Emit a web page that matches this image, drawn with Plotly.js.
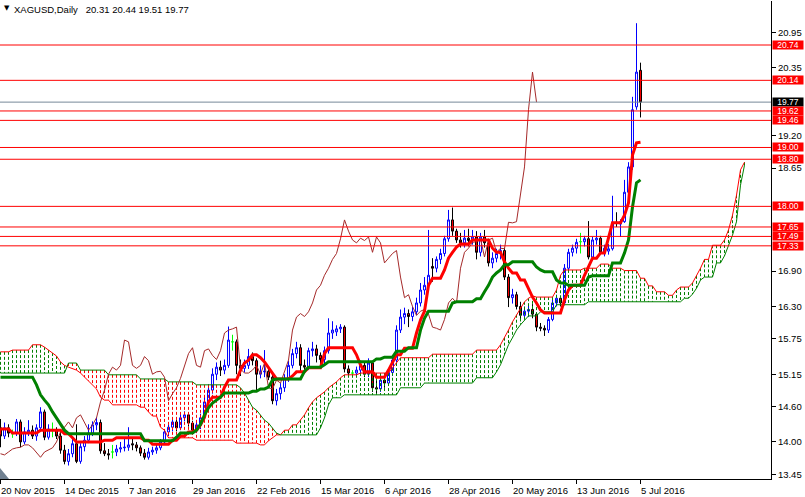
<!DOCTYPE html>
<html><head><meta charset="utf-8">
<script src="https://cdn.plot.ly/plotly-3.0.1.min.js"></script>
<style>html,body{margin:0;padding:0;background:#fff;}#chart{width:805px;height:497px;}</style>
</head><body><div id="chart"></div>
<script>
const chartTitle = "XAGUSD,Daily\u00a0\u00a0\u00a020.31 20.44 19.51 19.77";

const openP = [
14.24,14.10,14.24,14.14,14.15,14.34,14.00,14.17,14.20,14.10,
14.24,14.51,14.08,14.20,14.20,14.10,13.86,13.67,13.80,13.97,
13.67,13.92,14.03,14.15,14.29,14.33,13.85,13.80,13.83,13.83,
13.88,13.90,13.91,13.97,13.95,13.90,13.81,13.74,13.83,13.86,
13.90,14.00,14.17,14.25,14.34,14.24,14.41,14.46,14.32,14.20,
14.29,14.41,14.68,14.88,15.15,15.27,15.22,15.30,15.70,15.70,
15.30,15.25,15.30,15.45,15.38,15.15,15.19,15.20,15.10,14.70,
14.82,14.92,15.08,15.30,15.50,15.60,15.30,15.27,15.55,15.58,
15.47,15.40,15.55,15.85,15.87,15.92,15.95,15.24,15.17,15.17,
15.22,15.30,15.15,15.34,14.92,14.90,15.05,15.00,15.18,15.39,
15.90,16.12,16.18,16.13,16.21,16.36,16.58,16.66,16.98,16.95,
17.10,17.20,17.45,17.77,17.58,17.43,17.38,17.46,17.42,17.48,
17.22,17.48,17.38,17.04,17.12,17.20,17.25,16.80,16.45,16.50,
16.30,16.15,16.22,16.25,16.17,15.95,15.93,15.90,16.08,16.36,
16.44,16.36,16.95,17.22,17.29,17.40,17.40,17.45,17.14,17.43,
17.46,17.22,17.24,17.28,17.73,17.70,17.74,18.24,18.67,19.69,
20.31];
const highP = [
14.39,14.33,14.30,14.21,14.39,14.38,14.25,14.37,14.28,14.30,
14.59,14.55,14.30,14.33,14.25,14.18,13.95,13.88,14.05,14.30,
13.98,14.10,14.30,14.35,14.42,14.38,13.98,13.88,13.95,13.95,
14.00,14.05,14.25,14.08,14.00,13.94,13.88,13.90,13.92,13.96,
14.05,14.22,14.30,14.40,14.38,14.50,14.52,14.50,14.36,14.35,
14.48,14.78,14.98,15.25,15.35,15.38,15.40,15.96,15.82,15.74,
15.40,15.40,15.58,15.52,15.42,15.30,15.56,15.28,15.15,14.90,
15.00,15.15,15.38,15.58,15.70,15.66,15.40,15.60,15.70,15.65,
15.52,15.62,16.10,16.05,15.98,16.00,15.98,15.30,15.22,15.28,
15.38,15.36,15.42,15.38,15.05,15.12,15.10,15.25,15.45,15.98,
16.25,16.28,16.25,16.30,16.45,16.70,16.80,17.60,17.12,17.15,
17.28,17.50,17.94,17.98,17.62,17.55,17.60,17.62,17.60,17.58,
17.55,17.60,17.45,17.22,17.28,17.35,17.30,16.85,16.60,16.55,
16.38,16.30,16.35,16.34,16.20,16.02,15.98,16.12,16.45,16.50,
16.48,17.02,17.28,17.35,17.45,17.55,17.50,17.75,17.48,17.60,
17.50,17.35,17.36,18.18,17.90,17.78,18.45,18.75,19.86,21.11,
20.44];
const lowP = [
13.91,14.05,14.08,14.07,14.10,13.91,13.96,14.10,14.05,14.02,
14.18,14.03,14.04,14.08,14.05,13.80,13.62,13.60,13.74,13.64,
13.63,13.84,13.98,14.10,14.20,13.80,13.76,13.70,13.72,13.76,
13.82,13.84,13.85,13.86,13.84,13.76,13.70,13.70,13.78,13.80,
13.86,13.96,14.10,14.18,14.18,14.20,14.35,14.26,14.14,14.15,
14.22,14.36,14.62,14.82,15.05,15.12,15.15,15.26,15.55,15.15,
15.12,15.18,15.24,15.30,14.88,15.08,15.10,15.05,14.64,14.62,
14.72,14.85,15.02,15.25,15.42,15.20,15.22,15.22,15.45,15.35,
15.30,15.32,15.50,15.75,15.80,15.85,15.18,15.12,15.10,15.10,
15.15,15.10,15.10,14.85,14.82,14.85,14.92,14.95,15.12,15.35,
15.85,16.00,15.95,16.05,16.15,16.30,16.50,16.60,16.72,16.88,
17.02,17.15,17.40,17.50,17.38,17.30,17.30,17.32,17.35,17.10,
17.15,17.30,16.98,16.95,17.05,17.10,16.75,16.29,16.35,16.25,
16.05,16.08,16.12,16.10,15.88,15.88,15.80,15.85,16.05,16.30,
16.30,16.32,16.90,17.15,17.20,17.20,17.32,17.10,17.08,17.35,
17.18,17.15,17.18,17.25,17.65,17.48,17.72,18.19,18.62,19.64,
19.51];
const closeP = [
14.10,14.24,14.15,14.14,14.34,14.00,14.17,14.20,14.10,14.24,
14.51,14.08,14.22,14.20,14.10,13.86,13.67,13.80,13.97,13.67,
13.92,14.03,14.15,14.29,14.33,13.85,13.80,13.78,13.83,13.88,
13.90,13.91,13.95,13.95,13.90,13.81,13.74,13.83,13.86,13.90,
14.00,14.17,14.25,14.34,14.24,14.41,14.46,14.32,14.20,14.29,
14.41,14.68,14.88,15.15,15.27,15.22,15.30,15.73,15.70,15.30,
15.25,15.30,15.45,15.38,15.15,15.19,15.20,15.10,14.70,14.82,
14.92,15.08,15.30,15.50,15.60,15.30,15.27,15.55,15.58,15.47,
15.40,15.55,15.85,15.90,15.92,15.95,15.24,15.17,15.17,15.22,
15.30,15.15,15.34,14.92,14.90,15.05,15.00,15.18,15.39,15.90,
16.12,16.18,16.13,16.21,16.36,16.58,16.66,16.83,16.95,17.10,
17.20,17.45,17.77,17.58,17.43,17.38,17.46,17.42,17.48,17.22,
17.48,17.38,17.04,17.12,17.20,17.25,16.80,16.45,16.50,16.30,
16.15,16.22,16.25,16.17,15.95,15.93,15.90,16.08,16.36,16.44,
16.36,16.95,17.22,17.29,17.39,17.40,17.45,17.14,17.43,17.46,
17.22,17.29,17.28,17.73,17.72,17.74,18.24,18.67,19.64,20.28,
19.77];

const tenkan = [
14.22,14.22,14.22,14.15,14.15,14.15,14.15,14.15,14.15,14.15,
14.20,14.20,14.20,14.20,14.20,14.20,14.14,14.14,14.07,14.00,
14.00,14.00,14.00,14.00,14.00,14.00,14.03,14.03,14.03,14.07,
14.07,14.07,14.07,14.07,14.07,14.07,14.03,14.03,13.96,13.96,
13.96,13.96,13.96,14.03,14.03,14.10,14.10,14.17,14.17,14.20,
14.29,14.42,14.68,14.76,14.76,14.76,14.93,15.05,15.05,15.05,
15.22,15.34,15.39,15.48,15.48,15.43,15.36,15.26,15.15,15.07,
15.07,15.07,15.07,15.12,15.19,15.19,15.19,15.26,15.26,15.26,
15.26,15.50,15.60,15.60,15.60,15.60,15.60,15.60,15.60,15.48,
15.31,15.19,15.19,15.19,15.10,15.10,15.10,15.22,15.36,15.48,
15.48,15.59,15.59,15.59,15.85,16.07,16.22,16.66,16.78,16.78,
16.78,16.92,17.12,17.22,17.31,17.36,17.36,17.36,17.43,17.43,
17.43,17.43,17.43,17.29,17.22,17.22,17.06,16.95,16.87,16.87,
16.75,16.75,16.61,16.46,16.36,16.24,16.19,16.19,16.19,16.19,
16.19,16.41,16.58,16.66,16.66,16.66,16.83,16.97,17.12,17.12,
17.21,17.21,17.45,17.72,17.72,17.72,17.85,18.06,18.87,19.08,
19.09];
const kijun = [
15.10,15.10,15.10,15.10,15.10,15.10,15.10,15.10,15.10,14.97,
14.80,14.71,14.63,14.51,14.41,14.29,14.20,14.14,14.14,14.14,
14.14,14.14,14.14,14.14,14.14,14.14,14.14,14.14,14.14,14.14,
14.14,14.14,14.14,14.14,14.14,14.14,14.02,14.02,14.02,14.02,
14.02,14.02,14.02,14.02,14.08,14.15,14.15,14.15,14.15,14.20,
14.30,14.46,14.58,14.66,14.71,14.76,14.83,14.83,14.83,14.83,
14.83,14.83,14.83,14.86,14.86,14.90,14.90,14.93,15.05,15.07,
15.07,15.07,15.07,15.07,15.07,15.07,15.20,15.27,15.27,15.27,
15.27,15.31,15.36,15.36,15.36,15.36,15.36,15.36,15.36,15.36,
15.36,15.36,15.36,15.36,15.41,15.41,15.44,15.44,15.44,15.54,
15.54,15.54,15.60,15.60,15.60,15.90,16.10,16.22,16.22,16.22,
16.22,16.22,16.22,16.36,16.38,16.38,16.38,16.38,16.38,16.43,
16.43,16.55,16.66,16.80,16.87,16.92,17.01,17.01,17.06,17.06,
17.06,17.06,17.06,17.06,16.97,16.92,16.89,16.89,16.89,16.75,
16.70,16.70,16.66,16.66,16.66,16.66,16.66,16.80,16.82,16.82,
16.82,16.82,16.82,17.04,17.04,17.04,17.21,17.43,17.99,18.40,
18.45];
const spanA = [
15.53,15.53,15.53,15.56,15.56,15.56,15.56,15.56,15.65,15.65,
15.65,15.61,15.56,15.51,15.46,15.36,15.30,15.27,15.25,15.22,
15.17,15.10,15.04,14.97,14.90,14.76,14.71,14.71,14.63,14.63,
14.63,14.63,14.63,14.63,14.63,14.59,14.59,14.51,14.44,14.44,
14.25,14.20,14.07,14.07,14.07,14.07,14.07,14.07,14.07,14.03,
14.03,14.03,14.03,14.03,14.03,14.03,14.03,14.03,14.03,13.98,
13.98,13.98,13.98,13.98,13.98,13.95,13.95,14.02,14.07,14.12,
14.12,14.20,14.20,14.29,14.29,14.37,14.46,14.58,14.68,14.75,
14.80,14.85,14.92,14.97,15.02,15.09,15.14,15.14,15.14,15.14,
15.17,15.17,15.17,15.17,15.17,15.17,15.17,15.17,15.26,15.34,
15.43,15.43,15.43,15.43,15.43,15.43,15.43,15.43,15.49,15.49,
15.49,15.49,15.49,15.49,15.49,15.49,15.49,15.49,15.49,15.56,
15.56,15.56,15.56,15.56,15.56,15.65,15.77,15.90,16.04,16.16,
16.27,16.38,16.44,16.48,16.46,16.46,16.46,16.46,16.46,16.58,
16.83,16.92,16.92,16.92,16.92,16.92,16.95,16.95,16.95,16.95,
17.02,17.02,17.02,16.95,16.95,16.95,16.91,16.91,16.91,16.91,
16.78,16.78,16.65,16.65,16.55,16.55,16.55,16.49,16.49,16.58,
16.63,16.63,16.63,16.70,16.82,16.95,17.10,17.10,17.34,17.34,
17.34,17.43,17.60,17.85,18.19,18.62,18.75];
const spanB = [
15.17,15.17,15.17,15.17,15.17,15.17,15.17,15.17,15.17,15.17,
15.17,15.17,15.17,15.17,15.17,15.17,15.17,15.34,15.34,15.34,
15.22,15.22,15.22,15.22,15.22,15.22,15.22,15.14,15.14,15.14,
15.14,15.14,15.14,15.14,15.14,15.07,15.07,15.07,15.07,15.07,
15.07,15.07,15.02,15.02,15.02,15.02,15.02,15.02,15.02,14.97,
14.97,14.97,14.97,14.97,14.97,14.97,14.97,14.97,14.97,14.97,
14.92,14.83,14.71,14.59,14.54,14.46,14.37,14.32,14.24,14.15,
14.12,14.12,14.12,14.12,14.12,14.12,14.12,14.12,14.12,14.12,
14.24,14.41,14.63,14.75,14.75,14.75,14.80,14.80,14.80,14.80,
14.80,14.80,14.80,14.80,14.80,14.80,14.80,14.80,14.80,14.80,
14.92,14.92,14.92,14.92,14.92,14.92,15.00,15.00,15.00,15.00,
15.00,15.00,15.00,15.00,15.00,15.00,15.00,15.00,15.00,15.09,
15.09,15.09,15.09,15.09,15.19,15.31,15.48,15.65,15.77,15.90,
15.99,16.07,16.14,16.14,16.14,16.21,16.21,16.21,16.21,16.33,
16.33,16.33,16.33,16.33,16.33,16.33,16.33,16.38,16.38,16.38,
16.38,16.38,16.38,16.38,16.38,16.38,16.38,16.38,16.38,16.38,
16.38,16.38,16.38,16.38,16.38,16.38,16.38,16.38,16.38,16.38,
16.38,16.44,16.44,16.51,16.61,16.75,16.80,16.80,16.80,17.04,
17.04,17.16,17.34,17.51,17.74,18.36,18.70];
const chikouShift = 26;

const dateTickIndex = [0,16,32,48,64,80,96,112,128,144,160];
const dateTickLabels = ["20 Nov 2015","14 Dec 2015","7 Jan 2016","29 Jan 2016","22 Feb 2016","15 Mar 2016","6 Apr 2016","28 Apr 2016","20 May 2016","13 Jun 2016","5 Jul 2016"];
const priceTicks = [20.95,20.35,19.20,18.65,16.90,16.30,15.75,15.15,14.60,14.00,13.45];
const levelLines = [20.74,20.14,19.62,19.46,19.00,18.80,18.00,17.65,17.49,17.33];
const bidPrice = 19.77;

const FONT = 'Liberation Sans, Arial, sans-serif';
const idx = closeP.map((_, i) => i);
const isDoji = idx.map(i => openP[i] === closeP[i]);
const normIdx = idx.filter(i => !isDoji[i]);
const dojiIdx = idx.filter(i => isDoji[i]);
const pick = (arr, ids) => ids.map(i => arr[i]);

// kumo hatch (one dotted vertical per bar)
const gX = [], gY = [], rX = [], rY = [];
spanA.forEach((a, i) => {
  const b = spanB[i];
  if (a >= b) { gX.push(i, i, null); gY.push(a, b, null); }
  else { rX.push(i, i, null); rY.push(b, a, null); }
});
const spanIdx = spanA.map((_, i) => i);
const chX = idx.slice(chikouShift).map(i => i - chikouShift);
const chY = closeP.slice(chikouShift);

const traces = [
  {type:'scatter', mode:'lines', x:gX, y:gY, line:{color:'#008000', width:1, dash:'3px,2px'}, hoverinfo:'skip', connectgaps:false},
  {type:'scatter', mode:'lines', x:rX, y:rY, line:{color:'#ff0000', width:1, dash:'3px,2px'}, hoverinfo:'skip', connectgaps:false},
  {type:'scatter', mode:'lines', x:spanIdx, y:spanA, line:{color:'#ff0000', width:1}, hoverinfo:'skip'},
  {type:'scatter', mode:'lines', x:spanIdx, y:spanB, line:{color:'#008000', width:1}, hoverinfo:'skip'},
  {type:'candlestick', x:normIdx, open:pick(openP,normIdx), high:pick(highP,normIdx), low:pick(lowP,normIdx), close:pick(closeP,normIdx),
   increasing:{line:{color:'#0000ff', width:1}, fillcolor:'#ffffff'},
   decreasing:{line:{color:'#000000', width:1}, fillcolor:'#ff0000'}, whiskerwidth:0, hoverinfo:'skip'},
  {type:'candlestick', x:dojiIdx, open:pick(openP,dojiIdx), high:pick(highP,dojiIdx), low:pick(lowP,dojiIdx), close:pick(closeP,dojiIdx),
   increasing:{line:{color:'#00ff00', width:1}, fillcolor:'#00ff00'},
   decreasing:{line:{color:'#00ff00', width:1}, fillcolor:'#00ff00'}, whiskerwidth:0, hoverinfo:'skip'},
  {type:'scatter', mode:'lines', x:chX, y:chY, line:{color:'#a52a2a', width:1}, hoverinfo:'skip'},
  {type:'scatter', mode:'lines', x:idx, y:tenkan, line:{color:'#ff0000', width:3}, hoverinfo:'skip'},
  {type:'scatter', mode:'lines', x:idx, y:kijun, line:{color:'#008000', width:3}, hoverinfo:'skip'}
];

const shapes = [
  {type:'line', xref:'paper', x0:0, x1:1, yref:'y', y0:bidPrice, y1:bidPrice, line:{color:'#778899', width:1}},
  ...levelLines.map(v => ({type:'line', xref:'paper', x0:0, x1:1, yref:'y', y0:v, y1:v, line:{color:'#ff0000', width:1}})),
  {type:'path', xref:'paper', yref:'paper', path:'M0,0 L0,0.023 L0.0117,0 Z', fillcolor:'#708090', line:{width:0}}
];

const labelAnn = (v, bg) => ({xref:'paper', x:1, xanchor:'left', xshift:1, yref:'y', y:v, yanchor:'middle',
  text:v.toFixed(2), showarrow:false, bgcolor:bg, borderpad:0, width:30, height:8, align:'center',
  font:{family:FONT, size:8.5, color:'#ffffff'}});

const annotations = [
  {xref:'paper', yref:'paper', x:0, y:1, xanchor:'left', yanchor:'top', xshift:2, yshift:-1, text:'\u25BC', showarrow:false, font:{family:'DejaVu Sans', size:7, color:'#000'}},
  {xref:'paper', yref:'paper', x:0, y:1, xanchor:'left', yanchor:'top', xshift:12, yshift:-1, text:chartTitle, showarrow:false, font:{family:FONT, size:9.5, color:'#000'}},
  labelAnn(bidPrice, '#000000'),
  ...levelLines.map(v => labelAnn(v, '#ff0000')),
  ...dateTickIndex.map((t, k) => ({xref:'x', x:t, yref:'paper', y:0, xanchor:'left', yanchor:'top', xshift:-2, yshift:-4,
    text:dateTickLabels[k], showarrow:false, font:{family:FONT, size:9.5, color:'#000'}}))
];

const layout = {
  width:805, height:497, margin:{l:0, r:34, t:1, b:18, pad:0},
  paper_bgcolor:'#ffffff', plot_bgcolor:'#ffffff', showlegend:false,
  font:{family:FONT, size:9.5, color:'#000'},
  xaxis:{range:[-0.125,192.625], showgrid:false, zeroline:false, tickvals:dateTickIndex, showticklabels:false,
    ticks:'outside', ticklen:4, tickcolor:'#000', showline:true, linecolor:'#000', linewidth:1,
    rangeslider:{visible:false}, fixedrange:true},
  yaxis:{side:'right', range:[13.371,21.487], showgrid:false, zeroline:false, tickvals:priceTicks,
    ticktext:priceTicks.map(v => v.toFixed(2)), ticks:'outside', ticklen:4, tickcolor:'#000',
    showline:true, linecolor:'#000', linewidth:1, tickfont:{family:FONT, size:9.5, color:'#000'}, fixedrange:true},
  shapes:shapes, annotations:annotations
};

Plotly.newPlot('chart', traces, layout, {staticPlot:true, displayModeBar:false});
</script></body></html>
